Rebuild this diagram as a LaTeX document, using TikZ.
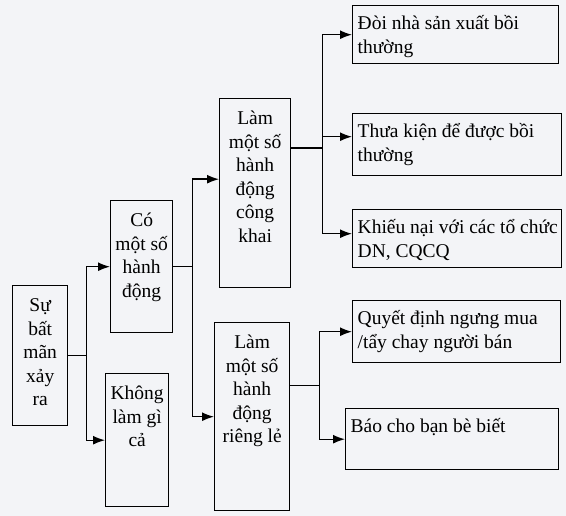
\documentclass[tikz,border=0pt]{standalone}
\usepackage{fontspec}
\setmainfont{Liberation Serif}
\usetikzlibrary{arrows.meta}
\definecolor{paper}{RGB}{243,244,247}
\newcommand{\midcell}[3]{\parbox[c][#2][t]{#1}{\centering\rule{0pt}{26pt}#3}}
\newcommand{\leftcell}[3]{\parbox[c][#2][t]{#1}{\raggedright\leftskip=5pt\rule{0pt}{24pt}#3}}
\begin{document}
\begin{tikzpicture}[x=1pt,y=-1pt,
	box/.style={draw,line width=1.4pt,inner sep=0pt,anchor=north west,font=\fontsize{19.5}{23.5}\selectfont},
	link/.style={line width=1.4pt},
	arr/.style={line width=1.4pt,-{Latex[length=12pt,width=9pt]}}]
			\fill[paper] (0,0) rectangle (566,516);
			\useasboundingbox (0,0) rectangle (566,516);
			\node[box] (bat) at (12,285) {\midcell{55pt}{140pt}{Sự\\bất\\mãn\\xảy\\ra}};
			\node[box] (co) at (110,200) {\midcell{62pt}{132pt}{Có\\một số\\hành\\động}};
			\node[box] (khong) at (105,373) {\midcell{63pt}{133pt}{Không\\làm gì\\cả}};
			\node[box] (congkhai) at (219,98) {\midcell{71pt}{189pt}{Làm\\một số\\hành\\động\\công\\khai}};
			\node[box] (riengle) at (214,322) {\midcell{75pt}{188pt}{Làm\\một số\\hành\\động\\riêng lẻ}};
			\node[box] (r1) at (352,5) {\leftcell{206pt}{58pt}{Đòi nhà sản xuất bồi\\thường}};
			\node[box] (r2) at (352,113) {\leftcell{209pt}{62pt}{Thưa kiện để được bồi\\thường}};
			\node[box] (r3) at (352,209) {\leftcell{209pt}{58pt}{Khiếu nại với các tổ chức\\DN, CQCQ}};
			\node[box] (r4) at (352,300) {\leftcell{208pt}{62pt}{Quyết định ngưng mua\\/tẩy chay người bán}};
			\node[box] (r5) at (345,408) {\leftcell{213pt}{61pt}{Báo cho bạn bè biết}};
			% first split
			\draw[link] (bat.east) -- ++(18,0) coordinate (j1);
			\draw[arr] (j1) |- (co.west);
			\draw[arr] (j1) |- (khong.west);
			% second split
			\draw[link] (co.east) -- ++(19,0) coordinate (j2);
			\draw[arr] (j2) |- ([yshift=14pt]congkhai.west);
			\draw[arr] (j2) |- (riengle.west);
			% public actions
			\draw[link] ([yshift=45pt]congkhai.east) -- ++(31,0) coordinate (j3);
			\draw[arr] (j3) |- (r1.west);
			\draw[arr] (j3) |- ([yshift=8pt]r2.west);
			\draw[arr] (j3) |- ([yshift=5pt]r3.west);
			% private actions
			\draw[link] ([yshift=31pt]riengle.east) -- ++(29,0) coordinate (j4);
			\draw[arr] (j4) |- (r4.west);
			\draw[arr] (j4) |- (r5.west);
		\end{tikzpicture}
\end{document}
